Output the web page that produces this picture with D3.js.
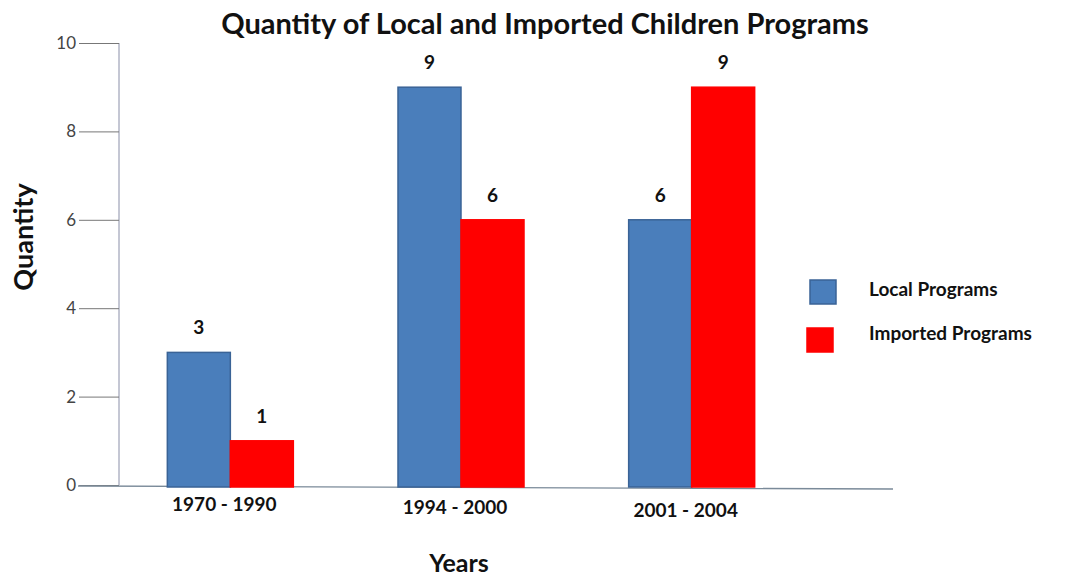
<!DOCTYPE html>
<html><head><meta charset="utf-8">
<script src="https://cdn.jsdelivr.net/npm/d3@7"></script>
<style>body{margin:0;background:#fff}svg{display:block}</style>
</head><body>
<svg id="c" width="1076" height="579"></svg>
<script>
const categories = ["1970 - 1990", "1994 - 2000", "2001 - 2004"];
const seriesNames = ["Local Programs", "Imported Programs"];
const localValues = [3, 9, 6];
const importedValues = [1, 6, 9];
const yTicks = [0, 2, 4, 6, 8, 10];
const colors = ["#4a7ebb", "#ff0000"];
const strokeColors = ["#3a6396", "#ff0000"];

const seriesValues = [localValues, importedValues];
const svg = d3.select("#c");
const font = "Lato, 'Open Sans', sans-serif";

const y = d3.scaleLinear().domain([0, 10]).range([485, 43]);
const x0 = d3.scaleBand().domain(categories).range([115, 807]).padding(0);
const groupW = 126;
const x1 = d3.scaleBand().domain(seriesNames)
  .range([(x0.bandwidth() - groupW) / 2, (x0.bandwidth() + groupW) / 2]).padding(0);

// title
svg.append("text").attr("x", 545).attr("y", 34).attr("text-anchor", "middle")
  .attr("font-family", font).attr("font-weight", "bold").attr("font-size", 29)
  .attr("fill", "#111").text("Quantity of Local and Imported Children Programs");

// y axis
const yAxis = d3.axisLeft(y).tickValues(yTicks).tickSize(40).tickFormat(d3.format("d"));
const gy = svg.append("g").attr("transform", "translate(119,0)").call(yAxis);
gy.select(".domain").attr("stroke", "#8a8fa8").attr("d", `M0,${y(10)}V${y(0)}`);
gy.selectAll(".tick line").attr("stroke", "#777");
gy.selectAll(".tick text").attr("font-family", font).attr("font-size", 17).attr("fill", "#444")
  .attr("x", -43);

// x axis baseline
svg.append("line").attr("x1", 78).attr("x2", 893).attr("y1", y(0) + 1).attr("y2", y(0) + 4)
  .attr("stroke", "#7a8a99").attr("stroke-width", 1.3);

// bars
const groups = svg.append("g").selectAll("g").data(categories).join("g")
  .attr("transform", d => `translate(${x0(d)},0)`);
groups.selectAll("rect").data((d, i) => seriesNames.map((s, j) => ({s, j, v: seriesValues[j][i]})))
  .join("rect")
  .attr("x", d => x1(d.s)).attr("width", x1.bandwidth())
  .attr("y", d => y(d.v)).attr("height", d => y(0) - y(d.v) + 2)
  .attr("fill", d => colors[d.j]).attr("stroke", d => strokeColors[d.j]).attr("stroke-width", 1.5);
groups.selectAll("text.val").data((d, i) => seriesNames.map((s, j) => ({s, j, v: seriesValues[j][i]})))
  .join("text").attr("class", "val")
  .attr("x", d => x1(d.s) + x1.bandwidth() / 2).attr("y", d => y(d.v) - 18)
  .attr("text-anchor", "middle").attr("font-family", font).attr("font-weight", "bold")
  .attr("font-size", 19).attr("fill", "#111").text(d => d.v);

// category labels
svg.append("g").selectAll("text").data(categories).join("text")
  .attr("x", d => x0(d) + x0.bandwidth() / 2 - 6).attr("y", (d, i) => 511 + i * 3)
  .attr("text-anchor", "middle").attr("font-family", font).attr("font-weight", "bold")
  .attr("font-size", 19).attr("fill", "#111").text(d => d);

// axis titles
svg.append("text").attr("transform", "translate(33,237) rotate(-90)").attr("text-anchor", "middle")
  .attr("font-family", font).attr("font-weight", "bold").attr("font-size", 27).attr("fill", "#111")
  .text("Quantity");
svg.append("text").attr("x", 459).attr("y", 572).attr("text-anchor", "middle")
  .attr("font-family", font).attr("font-weight", "bold").attr("font-size", 25).attr("fill", "#111")
  .text("Years");

// legend
const leg = svg.append("g").selectAll("g").data(seriesNames).join("g")
  .attr("transform", (d, i) => `translate(${810 - i * 3},${280 + i * 48})`);
leg.append("rect").attr("width", 26).attr("height", 24)
  .attr("fill", (d, i) => colors[i]).attr("stroke", (d, i) => strokeColors[i]).attr("stroke-width", 1.5);
leg.append("text").attr("x", (d, i) => 59 + i * 3).attr("y", (d, i) => 16 - i * 4)
  .attr("font-family", font).attr("font-weight", "bold").attr("font-size", 19).attr("fill", "#111")
  .text(d => d);
</script>
</body></html>
